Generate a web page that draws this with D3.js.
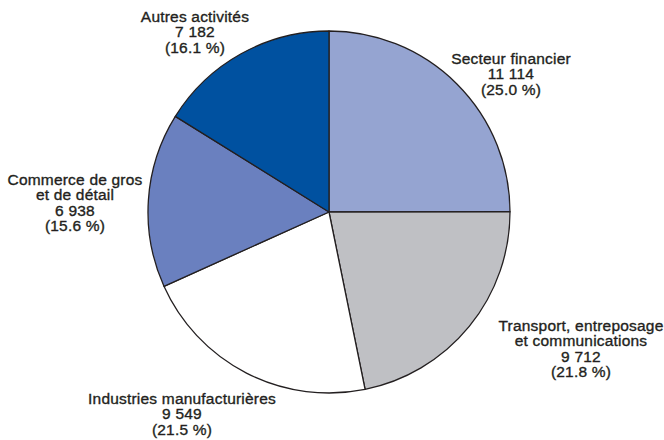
<!DOCTYPE html>
<html><head><meta charset="utf-8">
<script src="https://cdn.jsdelivr.net/npm/d3@7"></script>
<style>body{margin:0;background:#fff}svg{display:block}</style>
</head><body>
<svg id="chart" width="664" height="440"></svg>
<script>
const categories = ["Secteur financier", "Transport, entreposage\net communications", "Industries manufacturières", "Commerce de gros\net de détail", "Autres activités"];
const values = [11114, 9712, 9549, 6938, 7182];
const valueLabels = ["11 114", "9 712", "9 549", "6 938", "7 182"];
const percentLabels = ["(25.0 %)", "(21.8 %)", "(21.5 %)", "(15.6 %)", "(16.1 %)"];
const colors = ["#95a4d1", "#bfc0c4", "#ffffff", "#6a80bf", "#0051a0"];

// layout (label anchor: centre x, first baseline y)
const labelAnchors = [[511, 64], [581, 331], [182, 404], [75, 185], [195, 22]];

const svg = d3.select("#chart");
const cx = 329, cy = 212, r = 181;
const pie = d3.pie().sort(null).value(d => d);
const arcs = pie(values);
const arc = d3.arc().innerRadius(0).outerRadius(r);
const g = svg.append("g").attr("transform", `translate(${cx},${cy})`);
g.selectAll("path").data(arcs).join("path")
  .attr("d", arc)
  .attr("fill", (d, i) => colors[i])
  .attr("stroke", "#231f20")
  .attr("stroke-width", 1.3)
  .attr("stroke-linejoin", "round");

const lh = 15.4;
categories.forEach((c, i) => {
  const lines = c.split("\n").concat([valueLabels[i], percentLabels[i]]);
  const t = svg.append("text")
    .attr("x", labelAnchors[i][0]).attr("y", labelAnchors[i][1])
    .attr("text-anchor", "middle")
    .attr("font-family", "Liberation Sans, Arial, sans-serif")
    .attr("font-size", 15.5)
    .attr("letter-spacing", 0.2)
    .attr("fill", "#231f20")
    .attr("stroke", "#231f20")
    .attr("stroke-width", 0.35);
  lines.forEach((l, k) => {
    t.append("tspan").attr("x", labelAnchors[i][0]).attr("dy", k === 0 ? 0 : lh).text(l);
  });
});
</script>
</body></html>
